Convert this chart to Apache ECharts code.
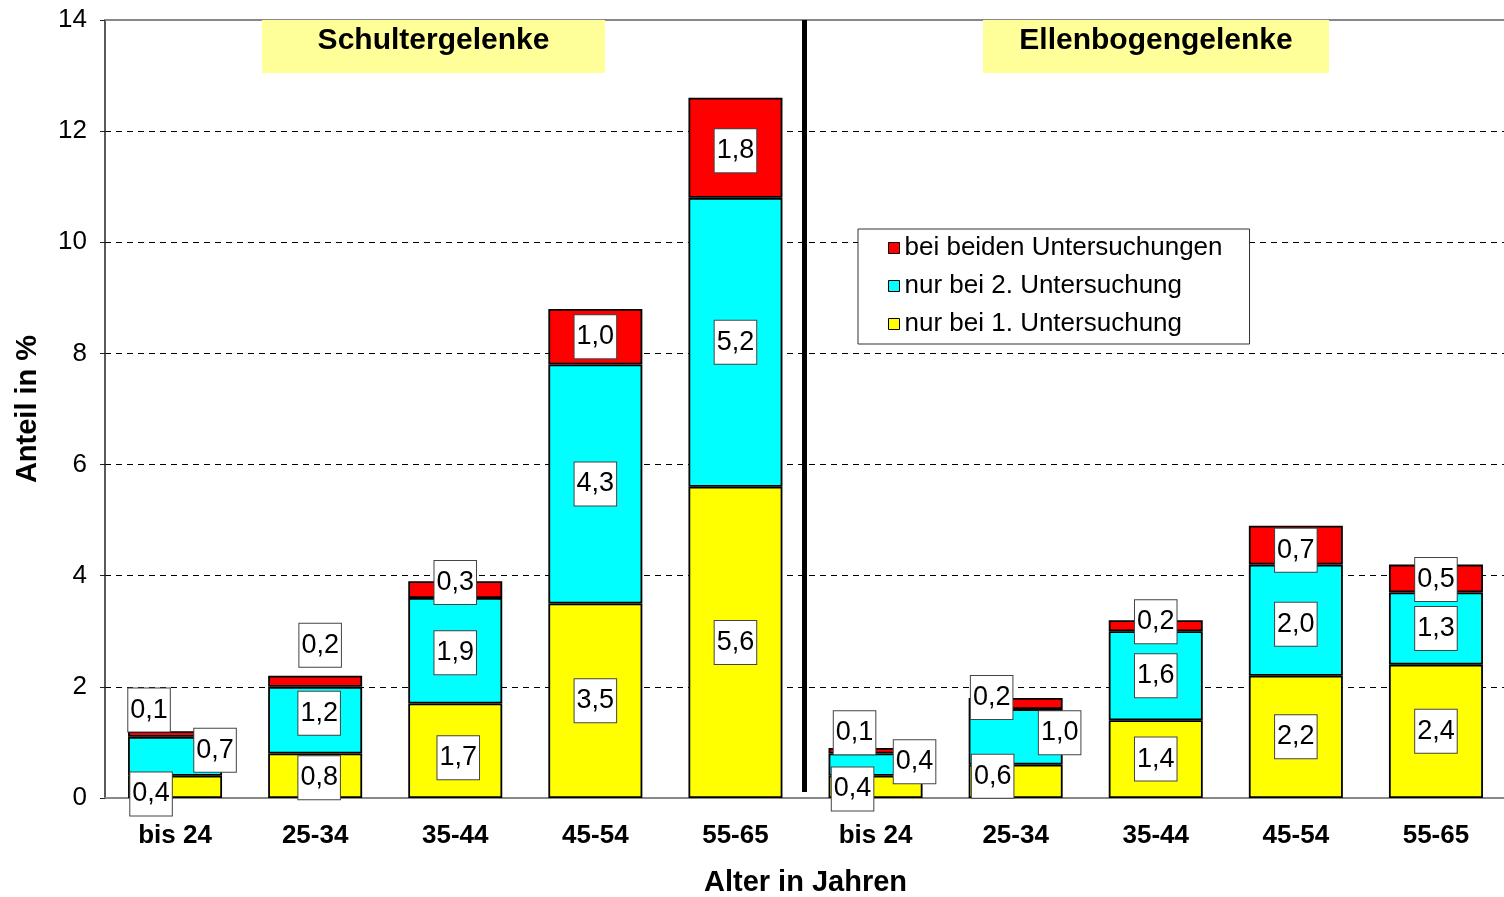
<!DOCTYPE html>
<html>
<head>
<meta charset="utf-8">
<script src="https://cdn.jsdelivr.net/npm/echarts@6/dist/echarts.min.js"></script>
<style>
  html, body { margin: 0; padding: 0; background: #fff; }
  #chart { width: 1504px; height: 897px; }
</style>
</head>
<body>
<div id="chart"></div>
<script>
// Age groups: first five = shoulder joints, last five = elbow joints
const categories = ['bis 24', '25-34', '35-44', '45-54', '55-65',
                    'bis 24', '25-34', '35-44', '45-54', '55-65'];

// Share in % per finding group
const nurErste  = [0.4, 0.8, 1.7, 3.5, 5.6, 0.4, 0.6, 1.4, 2.2, 2.4];
const nurZweite = [0.7, 1.2, 1.9, 4.3, 5.2, 0.4, 1.0, 1.6, 2.0, 1.3];
const beide     = [0.1, 0.2, 0.3, 1.0, 1.8, 0.1, 0.2, 0.2, 0.7, 0.5];

const seriesNames = ['nur bei 1. Untersuchung', 'nur bei 2. Untersuchung', 'bei beiden Untersuchungen'];
const yTicks = { min: 0, max: 14, step: 2 };

// Label box nudges (pixels) so small segments keep readable labels
const offErste  = [[-24, 7], [4, 2], [3, 7], [0, 0], [0, 0], [-23, 2], [-23, -5], [0, 0], [0, 0], [0, 0]];
const offZweite = [[40, -6], [4, -7], [0, 2], [0, 0], [0, 0], [39, -3], [44, -4], [0, 0], [0, 4], [0, 0]];
const offBeide  = [[-26, -24], [5, -36], [0, -7], [0, 0], [0, 3], [-21, -18], [-24, -6], [0, -4], [0, 5], [0, 1]];

const FONT = '"Liberation Sans", Arial, sans-serif';

function items(values, offsets) {
  return values.map((v, i) => ({ value: v, label: { offset: offsets[i] } }));
}

const valueLabel = {
  show: true,
  position: 'inside',
  formatter: p => p.value.toFixed(1).replace('.', ','),
  fontFamily: FONT,
  fontSize: 27,
  lineHeight: 29,
  color: '#000',
  backgroundColor: '#fff',
  borderColor: '#444',
  borderWidth: 1,
  padding: [7, 2, 7, 2]
};

function barSeries(name, values, offsets, color) {
  return {
    name: name,
    type: 'bar',
    stack: 'total',
    barWidth: 94,
    data: items(values, offsets),
    itemStyle: { color: color, borderColor: '#000', borderWidth: 1.8 },
    label: valueLabel,
    emphasis: { disabled: true }
  };
}

const chart = echarts.init(document.getElementById('chart'), null, { renderer: 'canvas' });

chart.setOption({
  animation: false,
  backgroundColor: '#fff',
  textStyle: { fontFamily: FONT },
  grid: { left: 105, top: 20, width: 1401, height: 778, outerBoundsMode: 'none', containLabel: false },
  legend: {
    orient: 'vertical',
    left: 858,
    top: 229,
    data: [seriesNames[2], seriesNames[1], seriesNames[0]],
    icon: 'rect',
    itemWidth: 11,
    itemHeight: 11,
    itemGap: 12,
    padding: [6, 27, 7, 30],
    backgroundColor: '#fff',
    borderColor: '#333',
    borderWidth: 1,
    borderRadius: 0,
    selectedMode: false,
    itemStyle: { borderColor: '#000', borderWidth: 1 },
    textStyle: { fontFamily: FONT, fontSize: 26, color: '#000' }
  },
  xAxis: [
    {
      type: 'category',
      data: categories,
      position: 'bottom',
      axisLine: { lineStyle: { color: '#888', width: 2 } },
      axisTick: { show: false },
      axisLabel: { fontFamily: FONT, fontSize: 26, fontWeight: 'bold', color: '#000', margin: 25, interval: 0 },
      name: 'Alter in Jahren',
      nameLocation: 'middle',
      nameGap: 70,
      nameTextStyle: { fontFamily: FONT, fontSize: 29, fontWeight: 'bold', color: '#000' }
    },
    {
      // plain frame line along the top of the plot
      type: 'category',
      data: categories,
      position: 'top',
      axisLine: { lineStyle: { color: '#888', width: 2 } },
      axisTick: { show: false },
      axisLabel: { show: false }
    }
  ],
  yAxis: {
    type: 'value',
    min: yTicks.min,
    max: yTicks.max,
    interval: yTicks.step,
    axisLine: { show: true, lineStyle: { color: '#222', width: 1.5 } },
    axisTick: { show: true, length: 5, lineStyle: { color: '#222' } },
    axisLabel: { fontFamily: FONT, fontSize: 26, color: '#000', margin: 18 },
    splitLine: {
      show: true,
      showMinLine: false,
      showMaxLine: false,
      lineStyle: { color: '#000', width: 1, type: [6, 5] }
    },
    name: 'Anteil in %',
    nameLocation: 'middle',
    nameGap: 63,
    nameTextStyle: { fontFamily: FONT, fontSize: 29, fontWeight: 'bold', color: '#000' }
  },
  series: [
    barSeries(seriesNames[0], nurErste, offErste, '#FFFF00'),
    barSeries(seriesNames[1], nurZweite, offZweite, '#00FFFF'),
    barSeries(seriesNames[2], beide, offBeide, '#FF0000')
  ]
});

// Divider between shoulder and elbow groups, plus the two group headings
const xLeft = chart.convertToPixel({ xAxisIndex: 0 }, 4);
const xRight = chart.convertToPixel({ xAxisIndex: 0 }, 5);
const xMid = (xLeft + xRight) / 2 - 1;
const yTop = chart.convertToPixel({ yAxisIndex: 0 }, yTicks.max);
const yBottom = chart.convertToPixel({ yAxisIndex: 0 }, yTicks.min);

function heading(text, left, width) {
  return [
    {
      type: 'rect', z: 100,
      shape: { x: left, y: yTop, width: width, height: 53 },
      style: { fill: '#FFFF99' }
    },
    {
      type: 'text', z: 101,
      x: left + width / 2, y: yTop + 21,
      style: {
        text: text, fill: '#000',
        font: 'bold 30px ' + FONT,
        align: 'center', verticalAlign: 'middle'
      }
    }
  ];
}

chart.setOption({
  graphic: [
    {
      type: 'line', z: 90,
      shape: { x1: xMid, y1: yTop, x2: xMid, y2: yBottom - 6 },
      style: { stroke: '#000', lineWidth: 5 }
    },
    ...heading('Schultergelenke', 262, 343),
    ...heading('Ellenbogengelenke', 983, 346)
  ]
});
</script>
</body>
</html>
